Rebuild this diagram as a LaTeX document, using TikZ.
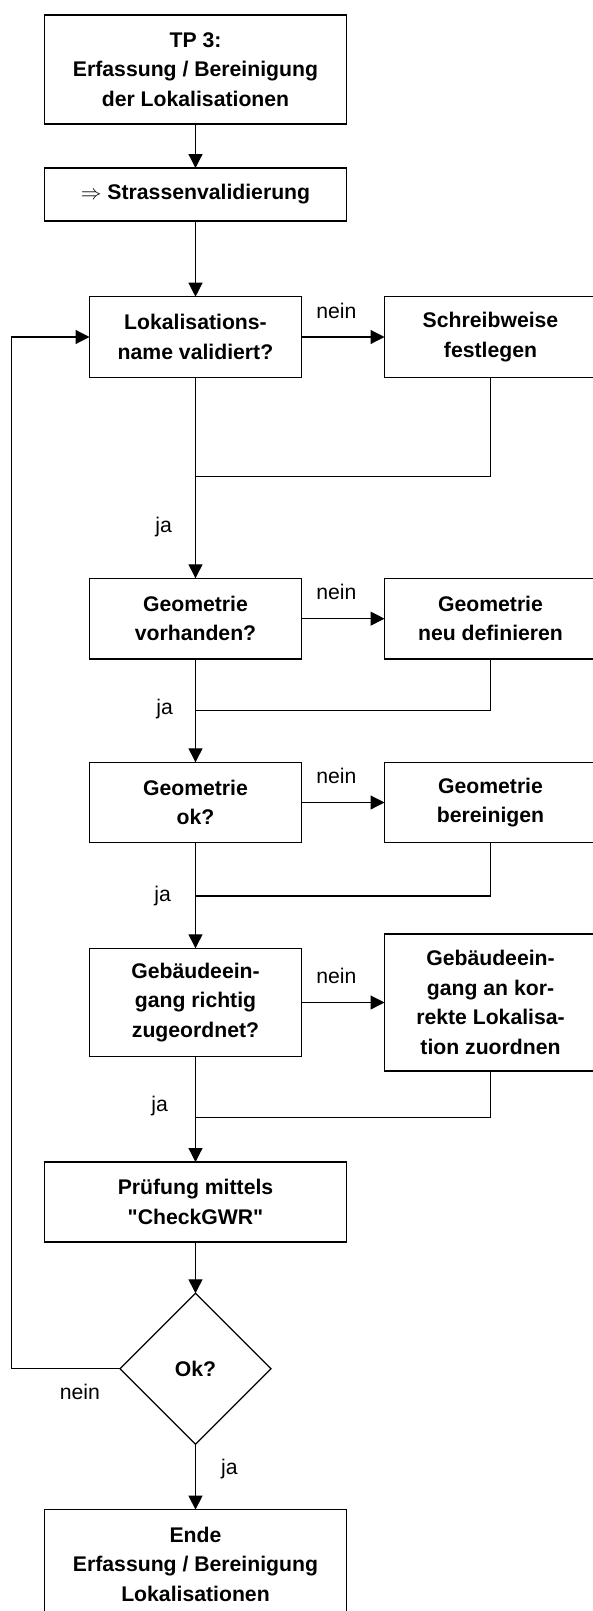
\documentclass[tikz,border=0pt]{standalone}
\usepackage{fontspec}
\setmainfont{Liberation Sans}
\usepackage{tikz}
\usetikzlibrary{arrows.meta,positioning,shapes.geometric}

\begin{document}
\begin{tikzpicture}[every node/.style={font=\fontsize{21.2pt}{29.5pt}\selectfont}, proc/.style={draw, line width=1.2pt, fill=white, align=center, font=\fontsize{21.2pt}{29.5pt}\selectfont\bfseries, minimum width=212pt, inner sep=0pt, outer sep=0pt}, wideproc/.style={proc, minimum width=302pt}, decide/.style={proc, diamond, aspect=1, minimum width=151pt, minimum height=151pt}, lbl/.style={inner sep=0pt}, arrow/.style={-{Triangle[length=14pt,width=14pt]}, line width=1.2pt}, joinline/.style={line width=1.2pt}]
\useasboundingbox (0,0) rectangle (593pt,-1611pt);
\node[wideproc, minimum height=109pt] (tp) at (195.5pt,-69.5pt) {TP 3:\\Erfassung / Bereinigung\\der Lokalisationen};
\node[wideproc, minimum height=53pt, below=44pt of tp] (strassen) {$\Rightarrow$ Strassenvalidierung};
\node[proc, minimum height=80.6pt, below=75.7pt of strassen] (lok) {Lokalisations-\\name validiert?};
\node[proc, minimum height=80.6pt, right=83pt of lok] (schreib) {Schreibweise\\festlegen};
\node[proc, minimum height=80.7pt, below=201pt of lok] (geo) {Geometrie\\vorhanden?};
\node[proc, minimum height=80.7pt, right=83pt of geo] (geoneu) {Geometrie\\neu definieren};
\node[proc, minimum height=80.4pt, below=103.3pt of geo] (geook) {Geometrie\\ok?};
\node[proc, minimum height=80.4pt, right=83pt of geook] (geober) {Geometrie\\bereinigen};
\node[proc, minimum height=108.4pt, below=105.6pt of geook] (geb) {Gebäudeein-\\gang richtig\\zugeordnet?};
\node[proc, minimum height=137pt, right=83pt of geb] (zuord) {Gebäudeein-\\gang an kor-\\rekte Lokalisa-\\tion zuordnen};
\node[wideproc, minimum height=80pt, below=105.3pt of geb] (pruef) {Prüfung mittels\\\textquotedbl CheckGWR\textquotedbl};
\node[decide, below=51.3pt of pruef] (ok) {Ok?};
\node[wideproc, minimum height=109pt, below=65.3pt of ok] (ende) {Ende\\Erfassung / Bereinigung\\Lokalisationen};
\coordinate[below=99.4pt of lok] (m1);
\coordinate[below=51.7pt of geo] (m2);
\coordinate[below=53.3pt of geook] (m3);
\coordinate[below=60.6pt of geb] (m4);
\coordinate[left=108.6pt of ok] (back);
\foreach \a/\b in {tp/strassen,strassen/lok,pruef/ok}{\draw[arrow] (\a) -- (\b);}
\foreach \a/\b in {lok/schreib,geo/geoneu,geook/geober,geb/zuord}{\draw[arrow] (\a) -- node[lbl, pos=0.42, above=18pt] (nein-\a) {nein} (\b);}
\foreach \a/\b/\p/\d in {lok/geo/0.745/23pt,geo/geook/0.485/22pt,geook/geb/0.505/24pt,geb/pruef/0.465/27pt}{\draw[arrow] (\a) -- node[lbl, pos=\p, left=\d] (ja-\a) {ja} (\b);}
\foreach \s/\m in {schreib/m1,geoneu/m2,geober/m3,zuord/m4}{\draw[joinline] (\s) |- (\m);}
\draw[arrow] (ok) -- node[lbl, pos=0.37, below=15pt] (nein-ok) {nein} (back) |- (lok);
\draw[arrow] (ok) -- node[lbl, pos=0.38, right=25pt] (ja-ok) {ja} (ende);
\end{tikzpicture}
\end{document}
